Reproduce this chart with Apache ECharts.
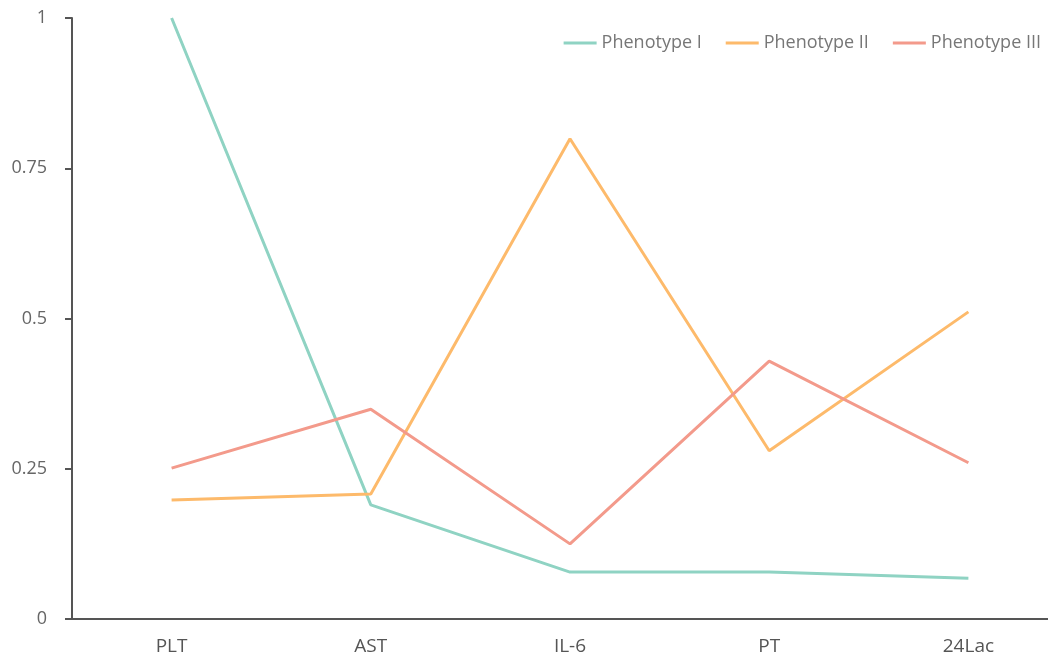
<!DOCTYPE html>
<html><head><meta charset="utf-8">
<script src="https://cdn.jsdelivr.net/npm/echarts@6/dist/echarts.min.js"></script>
<style>html,body{margin:0;padding:0;background:#fff}#c{width:1048px;height:661px}</style>
</head><body><div id="c"></div>
<script>
const categories = ['PLT', 'AST', 'IL-6', 'PT', '24Lac'];
const seriesNames = ['Phenotype I', 'Phenotype II', 'Phenotype III'];
const phenotype1 = [1.0, 0.19, 0.078, 0.078, 0.068];
const phenotype2 = [0.198, 0.208, 0.799, 0.28, 0.511];
const phenotype3 = [0.251, 0.349, 0.125, 0.429, 0.26];
const yTicks = {0: '0', 0.25: '0.25', 0.5: '0.5', 0.75: '0.75', 1: '1'};
const colors = ['#8fd3c3', '#fdba6b', '#f39a8b'];

const chart = echarts.init(document.getElementById('c'));
const font = '"Open Sans", "Noto Sans", sans-serif';
chart.setOption({
  animation: false,
  color: colors,
  textStyle: {fontFamily: font},
  legend: {
    top: 29, right: 2, itemWidth: 33, itemHeight: 3, itemGap: 24,
    icon: 'rect',
    textStyle: {color: '#777', fontSize: 18, fontFamily: font},
    data: seriesNames
  },
  grid: {left: 72, top: 18, bottom: 42, right: -20, outerBoundsMode: 'none', containLabel: false},
  xAxis: {
    type: 'category', data: categories, boundaryGap: true,
    axisLine: {lineStyle: {color: '#555', width: 2}},
    axisTick: {show: false},
    axisLabel: {color: '#555', fontSize: 19, margin: 18, fontFamily: font}
  },
  yAxis: {
    type: 'value', min: 0, max: 1, interval: 0.25,
    axisLine: {show: true, lineStyle: {color: '#555', width: 2}},
    axisTick: {show: true, length: 7, lineStyle: {color: '#555', width: 2}},
    splitLine: {show: false},
    axisLabel: {color: '#666', fontSize: 18, margin: 25, fontFamily: font,
      formatter: v => yTicks[v] !== undefined ? yTicks[v] : ''}
  },
  series: [phenotype1, phenotype2, phenotype3].map((d, i) => ({
    name: seriesNames[i], type: 'line', data: d,
    symbol: 'none', lineStyle: {width: 3, color: colors[i]}
  }))
});
</script></body></html>
